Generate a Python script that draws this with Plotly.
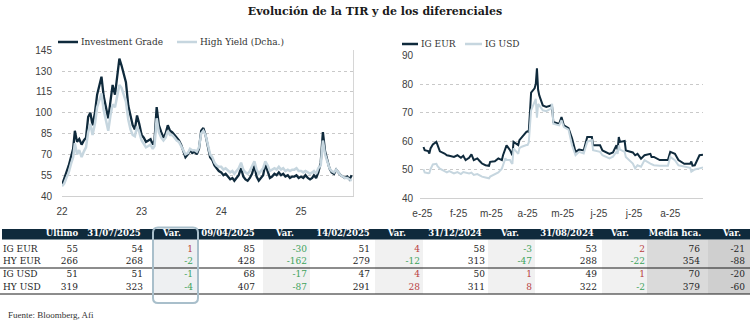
import datetime as dt
import plotly.graph_objects as go

W, H = 750, 334

# ---------------- Left panel: IG vs HY spread history (1st, 11th, 21st of each month) ----------------
hist_dates = [dt.date(y, m, d) for y in range(2022, 2026) for m in range(1, 13)
              for d in (1, 11, 21) if (y, m) <= (2025, 8)]

ig_spread = (
    [48, 52, 57, 62, 68, 74, 87, 79, 81, 77, 80, 82, 97, 100, 91, 100, 113, 120,
     126, 112, 104, 96, 108, 120, 113, 126, 139, 134, 128, 122, 105, 97, 91, 88, 98, 92]
    + [84, 82, 79, 80, 81, 77, 80, 104, 91, 86, 82, 85, 91, 87, 86, 84, 82, 80,
       77, 72, 68, 70, 73, 71, 72, 70, 74, 87, 89, 84, 74, 68, 66, 62, 60, 58]
    + [57, 55, 56, 54, 52, 53, 51, 53, 55, 60, 54, 52, 51, 53, 56, 62, 54, 51,
       53, 55, 63, 58, 53, 54, 56, 55, 57, 55, 56, 54, 55, 53, 54, 54, 55, 53]
    + [54, 53, 55, 53, 52, 53, 55, 53, 57, 64, 86, 72, 66, 60, 57, 56, 59, 57,
       55, 54, 53, 54, 52, 55]
)
hy_spread = (
    [47, 49, 53, 57, 63, 68, 78, 70, 73, 68, 72, 75, 86, 92, 84, 92, 104, 110,
     114, 102, 95, 87, 98, 106, 104, 112, 120, 118, 112, 108, 95, 88, 84, 83, 90, 86]
    + [80, 77, 75, 76, 77, 74, 76, 96, 86, 82, 80, 82, 87, 84, 84, 82, 80, 79,
       76, 72, 70, 71, 74, 73, 73, 72, 75, 85, 87, 84, 76, 70, 68, 64, 62, 61]
    + [61, 59, 60, 58, 57, 58, 56, 58, 60, 64, 59, 57, 56, 58, 61, 65, 59, 56,
       58, 60, 65, 62, 58, 59, 60, 59, 61, 59, 60, 58, 59, 58, 59, 59, 60, 58]
    + [58, 57, 58, 57, 56, 57, 58, 56, 60, 62, 80, 70, 64, 60, 58, 57, 59, 57,
       55, 54, 53, 53, 52, 51]
)
hist_ticks = ["2022-01-01", "2023-01-01", "2024-01-01", "2025-01-01"]
hist_ticktext = ["22", "23", "24", "25"]
hist_yticks = [40, 55, 70, 85, 100, 115, 130, 145]

# ---------------- Right panel: IG EUR vs IG USD in 2025 ----------------
ytd_dates = [
    "2025-01-02", "2025-01-03", "2025-01-06", "2025-01-07", "2025-01-08", "2025-01-10", "2025-01-13",
    "2025-01-14", "2025-01-16", "2025-01-20", "2025-01-22", "2025-01-24", "2025-01-28", "2025-01-31",
    "2025-02-03", "2025-02-05", "2025-02-07", "2025-02-10", "2025-02-12", "2025-02-14", "2025-02-17",
    "2025-02-19", "2025-02-21", "2025-02-24", "2025-02-27", "2025-02-28",
    "2025-03-04", "2025-03-07", "2025-03-10", "2025-03-11", "2025-03-13", "2025-03-14", "2025-03-17",
    "2025-03-18", "2025-03-19", "2025-03-20", "2025-03-24", "2025-03-25", "2025-03-27", "2025-03-31",
    "2025-04-01", "2025-04-02", "2025-04-03", "2025-04-04", "2025-04-07", "2025-04-08", "2025-04-09",
    "2025-04-10", "2025-04-11", "2025-04-14", "2025-04-17", "2025-04-21", "2025-04-22", "2025-04-23",
    "2025-04-28", "2025-04-30",
    "2025-05-02", "2025-05-06", "2025-05-09", "2025-05-12", "2025-05-15", "2025-05-19", "2025-05-22",
    "2025-05-26", "2025-05-27",
    "2025-06-02", "2025-06-04", "2025-06-10", "2025-06-13", "2025-06-16", "2025-06-17", "2025-06-18",
    "2025-06-19", "2025-06-23", "2025-06-24", "2025-06-30",
    "2025-07-02", "2025-07-04", "2025-07-07", "2025-07-10", "2025-07-15", "2025-07-16", "2025-07-18",
    "2025-07-23", "2025-07-30",
    "2025-08-01", "2025-08-05", "2025-08-08", "2025-08-13", "2025-08-18", "2025-08-19", "2025-08-20",
    "2025-08-22", "2025-08-26", "2025-08-29",
]
ig_eur = [
    57.9, 56.8, 56.5, 55.6, 57.4, 58.8, 59.7, 58.6, 56.4, 55.6, 55.0, 54.8, 54.4, 55.0,
    54.1, 54.8, 53.3, 54.1, 55.3, 53.3, 53.9, 53.0, 52.1, 51.5, 51.3, 52.7,
    52.9, 53.9, 53.3, 55.0, 57.1, 58.5, 56.8, 56.0, 55.0, 59.7, 58.6, 60.3, 61.4, 63.2,
    63.4, 63.2, 70.0, 77.0, 78.5, 80.0, 85.5, 78.0, 76.0, 72.5, 72.0, 72.5, 72.0, 66.7, 66.0, 68.4,
    65.5, 64.5, 61.0, 56.2, 57.0, 56.7, 61.4, 61.4, 58.5,
    58.5, 56.7, 55.5, 56.0, 58.5, 57.0, 61.4, 59.7, 60.0, 56.7, 56.0,
    55.0, 55.5, 53.8, 55.0, 55.5, 54.4, 54.4, 53.3, 53.3,
    56.2, 55.5, 53.3, 52.0, 52.0, 52.8, 51.4, 51.5, 55.0, 55.2,
]
ig_usd = [
    50.1, 49.0, 48.7, 48.8, 50.1, 51.8, 52.0, 51.2, 50.3, 49.5, 49.0, 49.4, 48.6, 49.1,
    48.4, 49.1, 48.8, 48.6, 48.9, 48.1, 48.4, 48.0, 47.5, 47.2, 46.9, 47.5,
    48.3, 49.0, 50.3, 51.8, 53.9, 53.3, 53.3, 52.5, 52.0, 57.4, 55.5, 57.5, 58.0, 58.6,
    58.6, 59.5, 66.0, 70.8, 73.7, 74.8, 68.2, 73.0, 72.5, 70.8, 70.5, 71.4, 73.1, 66.1, 65.5, 67.3,
    64.9, 64.0, 58.5, 55.0, 56.2, 55.6, 59.7, 60.3, 56.8,
    56.2, 55.0, 53.9, 54.5, 56.2, 55.5, 58.5, 57.0, 56.2, 54.4, 52.1,
    50.4, 51.5, 51.0, 53.3, 52.1, 51.8, 51.5, 51.3, 51.3,
    54.4, 53.3, 51.5, 51.0, 50.6, 49.2, 49.5, 50.0, 50.4, 50.7,
]
ytd_ticks = ["2025-01-01", "2025-02-01", "2025-03-01", "2025-04-01",
             "2025-05-01", "2025-06-01", "2025-07-01", "2025-08-01"]
ytd_ticktext = ["e-25", "f-25", "m-25", "a-25", "m-25", "j-25", "j-25", "a-25"]
ytd_yticks = [40, 50, 60, 70, 80, 90]

# ---------------- Summary table ----------------
row_labels = ["IG EUR", "HY EUR", "IG USD", "HY USD"]
col_headers = ["Último", "31/07/2025", "Var.", "09/04/2025", "Var.", "14/02/2025", "Var.",
               "31/12/2024", "Var.", "31/08/2024", "Var.", "Media hca.", "Var."]
ultimo = [55, 266, 51, 319]
jul31 = [54, 268, 51, 323]
jul31_var = [1, -2, -1, -4]
abr09 = [85, 428, 68, 407]
abr09_var = [-30, -162, -17, -87]
feb14 = [51, 279, 47, 291]
feb14_var = [4, -12, 4, 28]
dic31 = [58, 313, 50, 311]
dic31_var = [-3, -47, 1, 8]
ago31 = [53, 288, 49, 322]
ago31_var = [2, -22, 1, -2]
media = [76, 354, 70, 379]
media_var = [-21, -88, -20, -60]

# ---------------- styling ----------------
NAVY = "#0f2a3c"
LIGHT = "#c6d6df"
GRID = "#c9c9c9"
TXT = "#262626"
RED = "#b8403f"
GREEN = "#3fa35c"
SERIF = "DejaVu Serif"
SANS = "Liberation Sans"


def px_x(p):
    return p / W


def px_y(p):
    return 1 - p / H


fig = go.Figure()

series_style = {
    "Investment Grade": dict(color=NAVY, width=2.3),
    "High Yield (Dcha.)": dict(color=LIGHT, width=2.5),
    "IG EUR": dict(color=NAVY, width=2),
    "IG USD": dict(color=LIGHT, width=2),
}

fig.add_trace(go.Scatter(x=hist_dates, y=ig_spread, name="Investment Grade", mode="lines",
                         line=series_style["Investment Grade"], xaxis="x", yaxis="y"))
fig.add_trace(go.Scatter(x=hist_dates, y=hy_spread, name="High Yield (Dcha.)", mode="lines",
                         line=series_style["High Yield (Dcha.)"], xaxis="x", yaxis="y2"))
fig.add_trace(go.Scatter(x=ytd_dates, y=ig_eur, name="IG EUR", mode="lines",
                         line=series_style["IG EUR"], xaxis="x2", yaxis="y3"))
fig.add_trace(go.Scatter(x=ytd_dates, y=ig_usd, name="IG USD", mode="lines",
                         line=series_style["IG USD"], xaxis="x2", yaxis="y3"))

# table geometry (pixel units on the table axes)
col_right = [78, 143, 193, 255, 307, 370, 420, 485, 532, 597, 645, 700, 745]
head_center = [62, 114, 172, 228, 285, 343, 397, 455, 510, 567, 620, 675, 732]
row_y = [249.5, 262, 275, 288]
head_y0, head_y1 = 229, 239.5
body_bottom = 294
shade_spans = [(153, 198, "#eef0f2"), (263, 310, "#f1f1f1"), (375, 423, "#f1f1f1"),
               (488, 535, "#f1f1f1"), (602, 647, "#f1f1f1"), (647, 708, "#dadada"),
               (708, 750, "#cfcfcf")]
value_cols = [ultimo, jul31, jul31_var, abr09, abr09_var, feb14, feb14_var,
              dic31, dic31_var, ago31, ago31_var, media, media_var]
signed_cols = {2, 4, 6, 8, 10}

shapes = []
for x0, x1, c in shade_spans:
    shapes.append(dict(type="rect", xref="x4", yref="y4", x0=x0, x1=x1, y0=head_y1, y1=body_bottom,
                       fillcolor=c, line=dict(width=0), layer="below"))
shapes.append(dict(type="rect", xref="x4", yref="y4", x0=2, x1=W, y0=head_y0, y1=head_y1,
                   fillcolor=NAVY, line=dict(width=0), layer="below"))
for yy in (268, body_bottom):
    shapes.append(dict(type="line", xref="x4", yref="y4", x0=0, x1=W, y0=yy, y1=yy,
                       line=dict(color="#1a1a1a", width=1)))
# rounded frame around the latest-variation column
bx0, bx1, by0, by1, r = 153, 198, 227.5, 303, 5
path = (f"M{bx0 + r},{by0} L{bx1 - r},{by0} Q{bx1},{by0} {bx1},{by0 + r} "
        f"L{bx1},{by1 - r} Q{bx1},{by1} {bx1 - r},{by1} L{bx0 + r},{by1} "
        f"Q{bx0},{by1} {bx0},{by1 - r} L{bx0},{by0 + r} Q{bx0},{by0} {bx0 + r},{by0} Z")
shapes.append(dict(type="path", xref="x4", yref="y4", path=path,
                   line=dict(color="#a9bfcb", width=2), layer="above"))

# compact legends above each panel: (series, sample start, sample end, baseline)
legend_items = [("Investment Grade", 58, 78, 42), ("High Yield (Dcha.)", 177, 197, 42),
                ("IG EUR", 402, 418, 44), ("IG USD", 465, 482, 44)]
annotations = []
for name, lx0, lx1, ly in legend_items:
    st = series_style[name]
    shapes.append(dict(type="line", xref="paper", yref="paper", x0=px_x(lx0), x1=px_x(lx1),
                       y0=px_y(ly), y1=px_y(ly), line=dict(color=st["color"], width=2.5)))
    annotations.append(dict(text=name, x=px_x(lx1 + 1), y=px_y(ly), xref="paper", yref="paper",
                            xanchor="left", yanchor="middle", showarrow=False,
                            font=dict(family=SERIF, size=9, color="#333333")))
annotations.append(dict(text="Fuente: Bloomberg, Afi", x=px_x(6), y=px_y(315), xref="paper",
                        yref="paper", xanchor="left", yanchor="middle", showarrow=False,
                        font=dict(family="Liberation Serif", size=9, color="#333333")))

# header texts
fig.add_trace(go.Scatter(x=head_center, y=[(head_y0 + head_y1) / 2] * len(col_headers),
                         text=[f"<b>{h}</b>" for h in col_headers], mode="text",
                         textposition="middle center",
                         textfont=dict(family=SERIF, size=8.5, color="white"),
                         xaxis="x4", yaxis="y4", hoverinfo="skip"))
# row labels
fig.add_trace(go.Scatter(x=[3] * 4, y=row_y, text=row_labels, mode="text",
                         textposition="middle right",
                         textfont=dict(family=SERIF, size=9, color=TXT),
                         xaxis="x4", yaxis="y4", hoverinfo="skip"))
# numeric cells
vx, vy, vt, vc = [], [], [], []
for ci, col in enumerate(value_cols):
    for ri, v in enumerate(col):
        vx.append(col_right[ci])
        vy.append(row_y[ri])
        vt.append(str(v))
        if ci in signed_cols:
            vc.append(RED if v > 0 else GREEN)
        else:
            vc.append(TXT)
fig.add_trace(go.Scatter(x=vx, y=vy, text=vt, mode="text", textposition="middle left",
                         textfont=dict(family=SERIF, size=9, color=vc),
                         xaxis="x4", yaxis="y4", hoverinfo="skip"))

tickfont = dict(family=SANS, size=10, color="#404040")

fig.update_layout(
    template="none",
    width=W, height=H, autosize=False, showlegend=False,
    margin=dict(l=0, r=0, t=0, b=0, pad=0),
    paper_bgcolor="white", plot_bgcolor="white",
    title=dict(text="<b>Evolución de la TIR y de los diferenciales</b>", x=0.5, xanchor="center",
               y=px_y(11), yanchor="middle", font=dict(family=SERIF, size=11, color="#1a1a1a")),
    xaxis=dict(domain=[px_x(62), px_x(353)], type="date", range=["2022-01-01", "2025-08-27"],
               tickvals=hist_ticks, ticktext=hist_ticktext, showgrid=False, showline=True,
               linecolor="#d0d0d0", ticks="", tickfont=tickfont, anchor="y", ticklabelstandoff=6,
               automargin=False, zeroline=False),
    yaxis=dict(domain=[px_y(196), px_y(50)], range=[40, 145.2], tickvals=hist_yticks,
               showgrid=True, gridcolor=GRID, griddash="dot", zeroline=False, ticks="",
               tickfont=tickfont, anchor="x", ticklabelstandoff=9, automargin=False),
    yaxis2=dict(overlaying="y", side="right", range=[40, 145.2], showgrid=False, showline=True,
                linecolor="#d6d6d6", showticklabels=False, ticks="", zeroline=False, anchor="x",
                automargin=False),
    xaxis2=dict(domain=[px_x(420), px_x(703)], type="date", range=["2024-12-30", "2025-08-29"],
                tickvals=ytd_ticks, ticktext=ytd_ticktext, showgrid=False, showline=True,
                linecolor="#d0d0d0", ticks="", tickfont=tickfont, anchor="y3", ticklabelstandoff=6,
                automargin=False, zeroline=False),
    yaxis3=dict(domain=[px_y(198), px_y(55)], range=[40, 90.2], tickvals=ytd_yticks,
                showgrid=True, gridcolor=GRID, griddash="dot", zeroline=False, ticks="",
                tickfont=tickfont, anchor="x2", ticklabelstandoff=6, automargin=False),
    xaxis4=dict(domain=[0, 1], range=[0, W], visible=False, fixedrange=True, anchor="y4",
                automargin=False),
    yaxis4=dict(domain=[0, px_y(225)], range=[H, 225], visible=False, fixedrange=True,
                anchor="x4", automargin=False),
    shapes=shapes,
    annotations=annotations,
)

fig.write_html("out.html")
